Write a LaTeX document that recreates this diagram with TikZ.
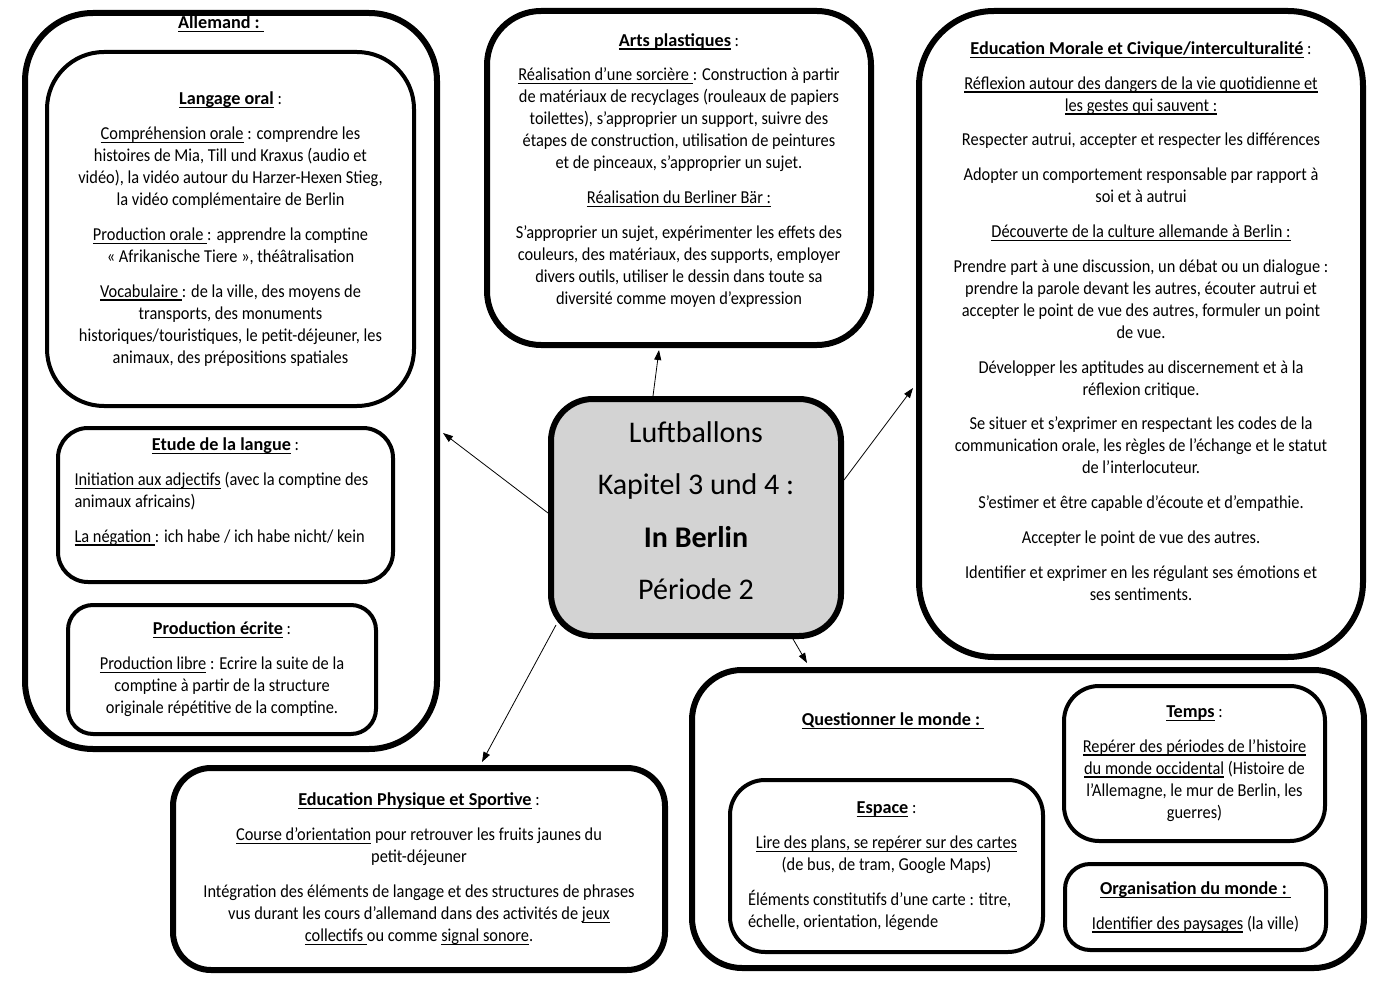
\documentclass[tikz,border=0pt]{standalone}
\usepackage{fontspec}
\setmainfont{Carlito}[UprightFeatures={FakeStretch=0.9}]
\newfontfamily\hubfont{Carlito}
\usetikzlibrary{arrows.meta,calc}

\newcommand\bodysize{\fontsize{18.2pt}{22pt}\selectfont}
\newsavebox\ulbox
\newcommand\ulx[1]{\leavevmode\sbox\ulbox{#1}\rlap{\rule[-3.4pt]{\wd\ulbox}{1.2pt}}\usebox\ulbox}
\newcommand\pgap{\\[12.8pt]}
\definecolor{hubgray}{RGB}{211,211,211}

\tikzset{
 thickbox/.style={draw, line width=6pt, rounded corners=#1, inner sep=0pt, align=flush center},
 thinbox/.style={draw, line width=4pt, rounded corners=#1, inner sep=0pt, align=flush center},
 link/.style={-{Triangle[length=10pt,width=7pt]}, line width=0.8pt},
}

\begin{document}
\begin{tikzpicture}[x=1pt,y=1pt,yscale=-1,xscale=1,font=\bodysize]
 \useasboundingbox (0,0) rectangle (1392,984);

 %Shape: Rounded Rect [Allemand]
 \node [thickbox=68pt, minimum width=412pt, minimum height=736pt] (allemand) at (231,381) {};
 % Text Node
 \node [font=\bodysize\bfseries] (allemandtitle) at (221,24) {\ulx{Allemand :\ }};

 %Shape: Rounded Rect [Langage oral]
 \node [thinbox=57pt, minimum width=367pt, minimum height=354pt, text width=355pt] (langage) at (230.5,229) {%
  \ulx{\textbf{Langage oral}} :\pgap
  \ulx{Compréhension orale} : comprendre les\\
  histoires de Mia, Till und Kraxus (audio et\\
  vidéo), la vidéo autour du Harzer-Hexen Stieg,\\
  la vidéo complémentaire de Berlin\pgap
  \ulx{Production orale\ }: apprendre la comptine\\
  «~Afrikanische Tiere~», théâtralisation\pgap
  \ulx{Vocabulaire\ }: de la ville, des moyens de\\
  transports, des monuments\\
  historiques/touristiques, le petit-déjeuner, les\\
  animaux, des prépositions spatiales};

 %Shape: Rounded Rect [Etude de la langue]
 \node [thinbox=30pt, align=flush left, minimum width=335pt, minimum height=154pt, text width=302pt] (etude) at (225.5,505) {%
  \makebox[\linewidth]{\ulx{\textbf{Etude de la langue}} :}\pgap
  \ulx{Initiation aux adjectifs} (avec la comptine des\\
  animaux africains)\pgap
  \ulx{La négation\ }: ich habe / ich habe nicht/ kein\\[8pt]\mbox{}};

 %Shape: Rounded Rect [Production ecrite]
 \node [thinbox=25pt, minimum width=308pt, minimum height=129pt, text width=295pt] (ecrite) at (222,669.5) {%
  \ulx{\textbf{Production écrite}} :\pgap
  \ulx{Production libre} : Ecrire la suite de la\\
  comptine à partir de la structure\\
  originale répétitive de la comptine.};

 %Shape: Rounded Rect [Arts plastiques]
 \node [thickbox=54pt, minimum width=384pt, minimum height=334pt, text width=372pt] (arts) at (679,178) {%
  \ulx{\textbf{Arts plastiques}} :\pgap
  \ulx{Réalisation d’une sorcière\ }: Construction à partir\\
  de matériaux de recyclages (rouleaux de papiers\\
  toilettes), s’approprier un support, suivre des\\
  étapes de construction, utilisation de peintures\\
  et de pinceaux, s’approprier un sujet.\pgap
  \ulx{Réalisation du Berliner Bär :}\pgap
  S’approprier un sujet, expérimenter les effets des\\
  couleurs, des matériaux, des supports, employer\\
  divers outils, utiliser le dessin dans toute sa\\
  diversité comme moyen d’expression\\[-4pt]\mbox{}};

 %Shape: Rounded Rect [Education Morale et Civique]
 \node [thickbox=75pt, minimum width=444pt, minimum height=646pt, text width=425pt] (emc) at (1141,334) {%
  \ulx{\textbf{Education Morale et Civique/interculturalité}} :\pgap
  \ulx{Réflexion autour des dangers de la vie quotidienne et}\\
  \ulx{les gestes qui sauvent :}\pgap
  Respecter autrui, accepter et respecter les différences\pgap
  Adopter un comportement responsable par rapport à\\
  soi et à autrui\pgap
  \ulx{Découverte de la culture allemande à Berlin :}\pgap
  Prendre part à une discussion, un débat ou un dialogue :\\
  prendre la parole devant les autres, écouter autrui et\\
  accepter le point de vue des autres, formuler un point\\
  de vue.\pgap
  Développer les aptitudes au discernement et à la\\
  réflexion critique.\pgap
  Se situer et s’exprimer en respectant les codes de la\\
  communication orale, les règles de l’échange et le statut\\
  de l’interlocuteur.\pgap
  S’estimer et être capable d’écoute et d’empathie.\pgap
  Accepter le point de vue des autres.\pgap
  Identifier et exprimer en les régulant ses émotions et\\
  ses sentiments.\\[4pt]\mbox{}};

 %Shape: Rounded Rect [hub]
 \node [thickbox=42pt, fill=hubgray, minimum width=290pt, minimum height=237pt, text width=280pt,
        font=\hubfont\fontsize{30pt}{36pt}\selectfont] (hub) at (696,517.5) {%
  Luftballons\\[16.5pt]
  Kapitel 3 und 4 :\\[16.5pt]
  \textbf{In Berlin}\\[16.5pt]
  Période 2\\[-22pt]\mbox{}};

 %Shape: Rounded Rect [Education Physique et Sportive]
 \node [thickbox=38pt, minimum width=492pt, minimum height=202pt, text width=475pt] (eps) at (419,869) {%
  \ulx{\textbf{Education Physique et Sportive}} :\pgap
  \ulx{Course d’orientation} pour retrouver les fruits jaunes du\\
  petit-déjeuner\pgap
  Intégration des éléments de langage et des structures de phrases\\
  vus durant les cours d’allemand dans des activités de \ulx{jeux}\\
  \ulx{collectifs\ }ou comme \ulx{signal sonore}.};

 %Shape: Rounded Rect [Questionner le monde]
 \node [thickbox=50pt, minimum width=672pt, minimum height=298pt] (quest) at (1028,819) {};
 % Text Node
 \node [font=\bodysize\bfseries] (questtitle) at (893,721) {\ulx{Questionner le monde :\ }};

 %Shape: Rounded Rect [Espace]
 \node [thinbox=35pt, align=flush left, minimum width=313pt, minimum height=172pt, text width=277pt] (espace) at (886.5,866) {%
  \makebox[\linewidth]{\ulx{\textbf{Espace}} :}\pgap
  \makebox[\linewidth]{\ulx{Lire des plans, se repérer sur des cartes}}\\
  \makebox[\linewidth]{(de bus, de tram, Google Maps)}\pgap
  Éléments constitutifs d’une carte : titre,\\
  échelle, orientation, légende};

 %Shape: Rounded Rect [Temps]
 \node [thinbox=35pt, minimum width=261pt, minimum height=155pt, text width=250pt] (temps) at (1194.5,763.5) {%
  \ulx{\textbf{Temps}} :\pgap
  \ulx{Repérer des périodes de l'histoire}\\
  \ulx{du monde occidental} (Histoire de\\
  l’Allemagne, le mur de Berlin, les\\
  guerres)};

 %Shape: Rounded Rect [Organisation du monde]
 \node [thinbox=25pt, minimum width=261pt, minimum height=86pt, text width=250pt] (orga) at (1195.5,907) {%
  \ulx{\textbf{Organisation du monde :\ }}\pgap
  \ulx{Identifier des paysages} (la ville)};

 %Straight Lines [links]
 \draw [link] ($(hub.north)+(-43,0)$) -- ($(arts.south)+(-20,2)$);
 \draw [link] ($(hub.east)+(0,-37.5)$) -- ($(emc.west)+(-3,54)$);
 \draw [link] ($(hub.west)+(0,-4.5)$) -- ($(allemand.east)+(3,52)$);
 \draw [link] ($(hub.south west)+(8,-14)$) -- ($(eps.north)+(63,-3)$);
 \draw [link] ($(hub.south)+(97,0)$) -- ($(quest.north)+(-221,-4)$);

\end{tikzpicture}
\end{document}
